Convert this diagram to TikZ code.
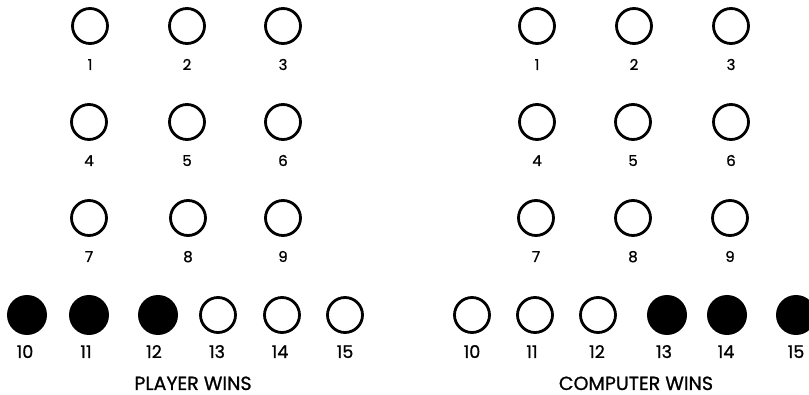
\documentclass[tikz,border=0pt]{standalone}
\usepackage{fontspec}
\newfontfamily\lblfont{Poppins}[FakeBold=1.0]
\begin{document}
\begin{tikzpicture}[x=1pt,y=-1pt,
  hole/.style={circle,draw=black,line width=2.8pt,minimum size=35pt,inner sep=0pt},
  peg/.style={circle,fill=black,minimum size=40pt,inner sep=0pt},
  num/.style={font=\lblfont\fontsize{15}{15}\selectfont,inner sep=0pt,anchor=base},
  bignum/.style={font=\lblfont\fontsize{17.5}{17.5}\selectfont,inner sep=0pt,anchor=base},
  caption/.style={font=\lblfont\fontsize{19}{19}\selectfont,inner sep=0pt,anchor=base,text depth=0pt}]
\useasboundingbox (0,0) rectangle (809,395);
% left grid
\foreach \n/\x/\y in {1/90/26,2/187/26,3/283/26,4/89/122,5/187/122,6/283/122,7/89/218,8/188/218,9/283/218}{
  \node[hole] (L\n) at (\x,\y) {};
  \node[num] (Ll\n) at (\x,\y+44) {\n};
}
% right grid
\foreach \n/\x/\y in {1/537/26,2/634/26,3/731/26,4/537/122,5/633/122,6/731/122,7/536/218,8/633/218,9/730/218}{
  \node[hole] (R\n) at (\x,\y) {};
  \node[num] (Rl\n) at (\x,\y+44) {\n};
}
% left bottom row
\node[peg] (L10) at (27,315) {};
\node[peg] (L11) at (89,315) {};
\node[peg] (L12) at (158,315) {};
\node[hole] (L13) at (218,315) {};
\node[hole] (L14) at (282,315) {};
\node[hole] (L15) at (345,315) {};
\foreach \n/\x in {10/25,11/86,12/154,13/217,14/280,15/345}{
  \node[bignum] (Ll\n) at (\x,358) {\n};
}
\node[caption] (pw) at (193,390) {PLAYER WINS};
% right bottom row
\node[hole] (R10) at (472,315) {};
\node[hole] (R11) at (535,315) {};
\node[hole] (R12) at (598,315) {};
\node[peg] (R13) at (667,315) {};
\node[peg] (R14) at (727,315) {};
\node[peg] (R15) at (796,315) {};
\foreach \n/\x in {10/472,11/532,12/597,13/664,14/726,15/796}{
  \node[bignum] (Rl\n) at (\x,358) {\n};
}
\node[caption] (cw) at (636,390) {COMPUTER WINS};
\end{tikzpicture}
\end{document}
